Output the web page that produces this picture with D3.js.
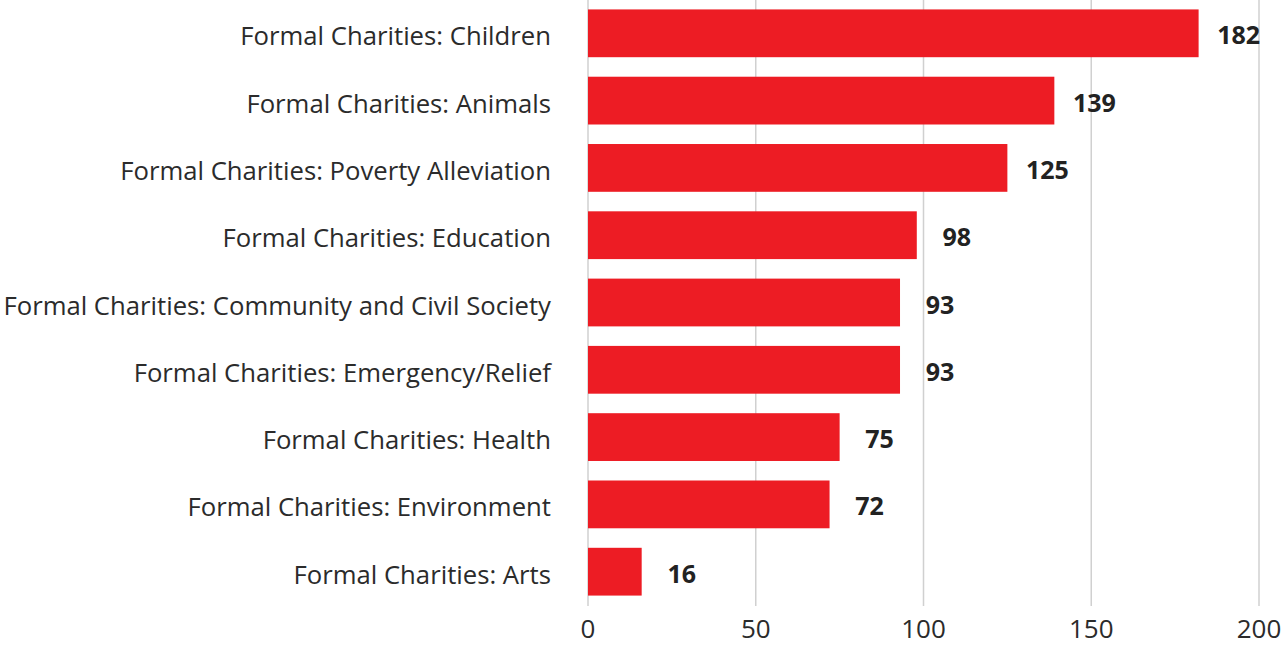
<!DOCTYPE html>
<html><head><meta charset="utf-8">
<script src="https://cdn.jsdelivr.net/npm/d3@7"></script>
<style>body{margin:0;background:#fff;}svg{display:block;}</style>
</head><body>
<svg id="chart" width="1283" height="645"></svg>
<script>
const categories = [
  "Formal Charities: Children",
  "Formal Charities: Animals",
  "Formal Charities: Poverty Alleviation",
  "Formal Charities: Education",
  "Formal Charities: Community and Civil Society",
  "Formal Charities: Emergency/Relief",
  "Formal Charities: Health",
  "Formal Charities: Environment",
  "Formal Charities: Arts"
];
const values = [182, 139, 125, 98, 93, 93, 75, 72, 16];
const tickValues = [0, 50, 100, 150, 200];

const svg = d3.select("#chart");
const x = d3.scaleLinear().domain([0, 200]).range([588, 1259]);
const y = d3.scaleBand().domain(categories).range([0, 605]).paddingInner(0.29).paddingOuter(0.14);

const font = "'Open Sans', sans-serif";

// grid
svg.append("g").selectAll("line").data(tickValues).join("line")
  .attr("x1", d => x(d)).attr("x2", d => x(d))
  .attr("y1", 0).attr("y2", 606)
  .attr("stroke", "#d0d0d0").attr("stroke-width", 1.5);

// x tick labels
svg.append("g").selectAll("text").data(tickValues).join("text")
  .attr("x", d => x(d)).attr("y", 638)
  .attr("text-anchor", "middle")
  .attr("font-family", font).attr("font-size", 26).attr("fill", "#2b2b2b")
  .text(d => d);

// bars
svg.append("g").selectAll("rect").data(values).join("rect")
  .attr("x", x(0)).attr("y", (d, i) => y(categories[i]))
  .attr("width", d => x(d) - x(0)).attr("height", y.bandwidth())
  .attr("fill", "#ED1C24");

// category labels
svg.append("g").selectAll("text").data(categories).join("text")
  .attr("x", 551).attr("y", d => y(d) + y.bandwidth() / 2 + 12)
  .attr("text-anchor", "end")
  .attr("font-family", font).attr("font-size", 25.7).attr("fill", "#2b2b2b")
  .text(d => d);

// value labels
svg.append("g").selectAll("text").data(values).join("text")
  .attr("x", d => x(d) + 40).attr("y", (d, i) => y(categories[i]) + y.bandwidth() / 2 + 11)
  .attr("text-anchor", "middle")
  .attr("font-family", font).attr("font-size", 25).attr("font-weight", "bold").attr("fill", "#222")
  .text(d => d);
</script>
</body></html>
